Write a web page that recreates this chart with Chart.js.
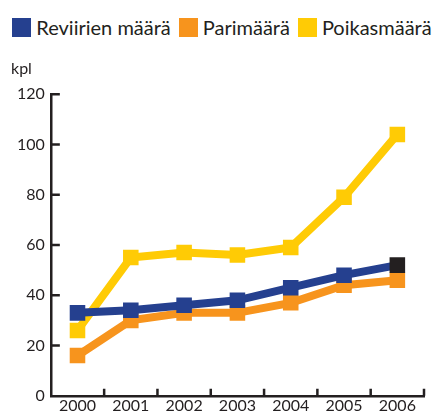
<!DOCTYPE html>
<html>
<head>
<meta charset="utf-8">
<script src="https://cdn.jsdelivr.net/npm/chart.js@4/dist/chart.umd.min.js"></script>
<style>
  html, body { margin: 0; padding: 0; background: #fff; }
  #legend { height: 44px; box-sizing: border-box; padding-top: 10px; display: flex; justify-content: center;
            font-family: Lato, sans-serif; font-size: 20px; color: #231f20; line-height: 20px; }
  #legend .item { display: flex; align-items: center; margin: 0 4px; }
  #legend .box { width: 19px; height: 19px; margin-right: 5px; }
  #wrap { width: 444px; height: 371px; }
</style>
</head>
<body>
<div id="legend"></div>
<div id="wrap"><canvas id="chart"></canvas></div>
<script>
// vuodet ja sarjat
const years = ['2000', '2001', '2002', '2003', '2004', '2005', '2006'];
const reviirit = [33, 34, 36, 38, 43, 48, 52];
const parit = [16, 30, 33, 33, 37, 44, 46];
const poikaset = [26, 55, 57, 56, 59, 79, 104];
const yTicks = [0, 20, 40, 60, 80, 100, 120];

const ink = '#231f20';
const blue = '#25408f';
const orange = '#f7941d';
const yellow = '#ffcb05';
const font = 'Lato';

// last territory point is drawn black
const blueMarkers = reviirit.map((v, i) => i === reviirit.length - 1 ? ink : blue);

// small tick marks pointing into the plot
const innerTicks = {
    id: 'innerTicks',
    afterDraw(chart) {
        const ctx = chart.ctx;
        const x = chart.scales.x, y = chart.scales.y;
        ctx.save();
        ctx.strokeStyle = ink;
        ctx.lineWidth = 2.5;
        ctx.beginPath();
        yTicks.forEach(v => {
            if (v === 0) return;
            const py = y.getPixelForValue(v);
            ctx.moveTo(x.left, py);
            ctx.lineTo(x.left + 9, py);
        });
        for (let i = 0; i < years.length; i++) {
            const px = (x.getPixelForValue(i) + x.getPixelForValue(i + 1)) / 2;
            ctx.moveTo(px, y.bottom);
            ctx.lineTo(px, y.bottom - 7);
        }
        ctx.stroke();
        ctx.restore();
    }
};

const chart = new Chart(document.getElementById('chart'), {
    type: 'line',
    data: {
        labels: years,
        datasets: [{
            label: 'Reviirien määrä',
            data: reviirit,
            borderColor: blue,
            backgroundColor: blue,
            pointBackgroundColor: blueMarkers,
            order: 1
        }, {
            label: 'Parimäärä',
            data: parit,
            borderColor: orange,
            backgroundColor: orange,
            pointBackgroundColor: orange,
            order: 2
        }, {
            label: 'Poikasmäärä',
            data: poikaset,
            borderColor: yellow,
            backgroundColor: yellow,
            pointBackgroundColor: yellow,
            order: 3
        }]
    },
    options: {
        responsive: true,
        maintainAspectRatio: false,
        animation: false,
        layout: { padding: { left: 11, right: 20, top: 0, bottom: 0 } },
        elements: {
            line: { borderWidth: 8, tension: 0, borderJoinStyle: 'miter' },
            point: { pointStyle: 'rect', radius: 11, borderWidth: 0 }
        },
        plugins: {
            legend: { display: false },
            title: {
                display: true,
                text: 'kpl',
                align: 'start',
                color: ink,
                font: { family: font, size: 16, weight: 'normal' },
                padding: { top: 15, bottom: 16 }
            },
            tooltip: { enabled: false }
        },
        scales: {
            x: {
                offset: true,
                grid: { display: false, drawTicks: false },
                border: { display: true, color: ink, width: 2.5 },
                ticks: { color: ink, font: { family: font, size: 16 }, padding: 0, maxRotation: 0 }
            },
            y: {
                min: 0,
                max: 120,
                afterBuildTicks(scale) {
                    scale.ticks = yTicks.map(v => ({ value: v }));
                },
                grid: { display: false, drawTicks: false },
                border: { display: true, color: ink, width: 2.5 },
                ticks: { color: ink, font: { family: font, size: 16 }, padding: 6 }
            }
        }
    },
    plugins: [innerTicks]
});

// legend in html, built from the datasets
const legend = document.getElementById('legend');
chart.data.datasets.forEach(ds => {
    const item = document.createElement('div');
    item.className = 'item';
    const box = document.createElement('span');
    box.className = 'box';
    box.style.background = ds.borderColor;
    item.appendChild(box);
    item.appendChild(document.createTextNode(ds.label));
    legend.appendChild(item);
});
</script>
</body>
</html>
